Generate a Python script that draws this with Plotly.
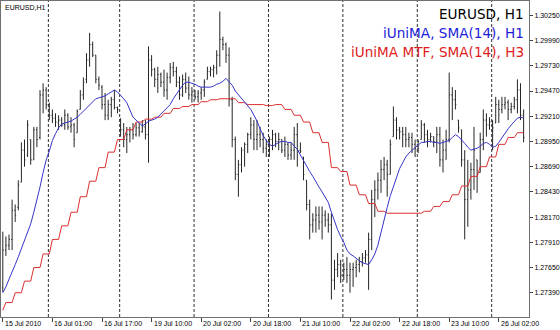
import plotly.graph_objects as go

# ---------------- data (EURUSD H1, 15-26 Jul 2010) ----------------
bar_open = [
    1.2744, 1.2783, 1.2788, 1.2794, 1.2824, 1.2827, 1.2853, 1.2886, 1.2881, 1.2897,
    1.2876, 1.2907, 1.2899, 1.2943, 1.2948, 1.2933, 1.2922, 1.2919, 1.2915, 1.2917,
    1.2912, 1.2922, 1.2910, 1.2912, 1.2904, 1.2928, 1.2943, 1.2959, 1.2979, 1.2995,
    1.2984, 1.2959, 1.2951, 1.2933, 1.2922, 1.2933, 1.2938, 1.2930, 1.2917, 1.2907,
    1.2897, 1.2902, 1.2907, 1.2902, 1.2909, 1.2905, 1.2910, 1.2902, 1.2979, 1.2969,
    1.2959, 1.2964, 1.2956, 1.2948, 1.2961, 1.2971, 1.2967, 1.2956, 1.2943, 1.2959,
    1.2950, 1.2943, 1.2946, 1.2941, 1.2945, 1.2948, 1.2959, 1.2967, 1.2969, 1.2971,
    1.2984, 1.3000, 1.2995, 1.2984, 1.2938, 1.2897, 1.2861, 1.2871, 1.2886, 1.2892,
    1.2902, 1.2912, 1.2897, 1.2902, 1.2897, 1.2888, 1.2892, 1.2897, 1.2902, 1.2895,
    1.2897, 1.2886, 1.2892, 1.2881, 1.2886, 1.2902, 1.2886, 1.2879, 1.2855, 1.2830,
    1.2809, 1.2814, 1.2819, 1.2812, 1.2819, 1.2814, 1.2809, 1.2752, 1.2763, 1.2768,
    1.2757, 1.2763, 1.2757, 1.2763, 1.2765, 1.2768, 1.2771, 1.2775, 1.2778, 1.2794,
    1.2835, 1.2845, 1.2855, 1.2866, 1.2871, 1.2861, 1.2900, 1.2917, 1.2907, 1.2905,
    1.2902, 1.2897, 1.2899, 1.2892, 1.2888, 1.2897, 1.2912, 1.2902, 1.2897, 1.2900,
    1.2895, 1.2902, 1.2876, 1.2886, 1.2897, 1.2943, 1.2938, 1.2917, 1.2907, 1.2876,
    1.2835, 1.2845, 1.2866, 1.2876, 1.2863, 1.2897, 1.2917, 1.2912, 1.2915, 1.2914,
    1.2933, 1.2928, 1.2933, 1.2935, 1.2928, 1.2931, 1.2938, 1.2948, 1.2922,
]
bar_high = [
    1.2802, 1.2797, 1.2799, 1.2835, 1.2830, 1.2855, 1.2894, 1.2897, 1.2917, 1.2897,
    1.2910, 1.2910, 1.2948, 1.2955, 1.2951, 1.2935, 1.2928, 1.2924, 1.2922, 1.2920,
    1.2928, 1.2924, 1.2920, 1.2914, 1.2928, 1.2948, 1.2961, 1.2986, 1.3007, 1.2998,
    1.2984, 1.2962, 1.2953, 1.2945, 1.2938, 1.2941, 1.2948, 1.2931, 1.2919, 1.2914,
    1.2910, 1.2910, 1.2914, 1.2914, 1.2914, 1.2917, 1.2917, 1.2993, 1.2984, 1.2971,
    1.2972, 1.2966, 1.2969, 1.2966, 1.2976, 1.2977, 1.2972, 1.2962, 1.2964, 1.2966,
    1.2962, 1.2951, 1.2948, 1.2948, 1.2951, 1.2959, 1.2972, 1.2972, 1.2974, 1.2989,
    1.3029, 1.3003, 1.2997, 1.2992, 1.2941, 1.2900, 1.2876, 1.2889, 1.2894, 1.2904,
    1.2920, 1.2917, 1.2917, 1.2910, 1.2904, 1.2897, 1.2900, 1.2907, 1.2904, 1.2904,
    1.2897, 1.2900, 1.2894, 1.2894, 1.2910, 1.2914, 1.2894, 1.2879, 1.2855, 1.2835,
    1.2821, 1.2828, 1.2828, 1.2828, 1.2824, 1.2821, 1.2821, 1.2773, 1.2780, 1.2773,
    1.2770, 1.2776, 1.2770, 1.2770, 1.2773, 1.2776, 1.2780, 1.2783, 1.2801, 1.2845,
    1.2855, 1.2863, 1.2876, 1.2879, 1.2876, 1.2897, 1.2931, 1.2920, 1.2910, 1.2910,
    1.2910, 1.2904, 1.2904, 1.2897, 1.2897, 1.2917, 1.2914, 1.2907, 1.2904, 1.2900,
    1.2910, 1.2910, 1.2897, 1.2907, 1.2966, 1.2951, 1.2948, 1.2917, 1.2907, 1.2886,
    1.2876, 1.2873, 1.2910, 1.2876, 1.2904, 1.2928, 1.2924, 1.2920, 1.2917, 1.2941,
    1.2938, 1.2941, 1.2941, 1.2938, 1.2935, 1.2941, 1.2959, 1.2955, 1.2928,
]
bar_low = [
    1.2740, 1.2777, 1.2783, 1.2783, 1.2812, 1.2824, 1.2853, 1.2869, 1.2879, 1.2871,
    1.2876, 1.2889, 1.2897, 1.2924, 1.2928, 1.2917, 1.2914, 1.2910, 1.2907, 1.2910,
    1.2907, 1.2907, 1.2904, 1.2889, 1.2904, 1.2928, 1.2938, 1.2955, 1.2972, 1.2982,
    1.2955, 1.2948, 1.2928, 1.2917, 1.2917, 1.2920, 1.2928, 1.2924, 1.2900, 1.2889,
    1.2883, 1.2894, 1.2897, 1.2900, 1.2900, 1.2904, 1.2897, 1.2873, 1.2962, 1.2951,
    1.2945, 1.2951, 1.2941, 1.2938, 1.2955, 1.2962, 1.2951, 1.2938, 1.2941, 1.2945,
    1.2938, 1.2935, 1.2938, 1.2935, 1.2938, 1.2941, 1.2959, 1.2962, 1.2961, 1.2964,
    1.2972, 1.2989, 1.2976, 1.2931, 1.2889, 1.2855, 1.2838, 1.2863, 1.2869, 1.2883,
    1.2897, 1.2886, 1.2886, 1.2889, 1.2883, 1.2879, 1.2879, 1.2886, 1.2889, 1.2886,
    1.2883, 1.2879, 1.2876, 1.2876, 1.2876, 1.2869, 1.2883, 1.2855, 1.2824, 1.2794,
    1.2801, 1.2801, 1.2804, 1.2794, 1.2807, 1.2801, 1.2732, 1.2742, 1.2755, 1.2749,
    1.2752, 1.2749, 1.2739, 1.2745, 1.2755, 1.2760, 1.2766, 1.2770, 1.2742, 1.2783,
    1.2817, 1.2835, 1.2842, 1.2855, 1.2838, 1.2861, 1.2900, 1.2897, 1.2897, 1.2889,
    1.2889, 1.2889, 1.2883, 1.2879, 1.2883, 1.2897, 1.2894, 1.2889, 1.2894, 1.2889,
    1.2883, 1.2869, 1.2863, 1.2876, 1.2894, 1.2917, 1.2928, 1.2904, 1.2869, 1.2794,
    1.2807, 1.2835, 1.2845, 1.2842, 1.2863, 1.2886, 1.2900, 1.2907, 1.2886, 1.2914,
    1.2914, 1.2924, 1.2928, 1.2917, 1.2924, 1.2928, 1.2924, 1.2917, 1.2894,
]
bar_close = [
    1.2783, 1.2788, 1.2794, 1.2824, 1.2819, 1.2850, 1.2886, 1.2876, 1.2912, 1.2876,
    1.2907, 1.2897, 1.2943, 1.2948, 1.2933, 1.2922, 1.2919, 1.2915, 1.2917, 1.2912,
    1.2922, 1.2910, 1.2912, 1.2897, 1.2926, 1.2943, 1.2956, 1.2979, 1.2995, 1.2984,
    1.2959, 1.2953, 1.2933, 1.2922, 1.2933, 1.2938, 1.2930, 1.2928, 1.2907, 1.2897,
    1.2902, 1.2907, 1.2902, 1.2909, 1.2905, 1.2910, 1.2902, 1.2979, 1.2969, 1.2959,
    1.2964, 1.2956, 1.2948, 1.2961, 1.2971, 1.2967, 1.2956, 1.2943, 1.2959, 1.2950,
    1.2943, 1.2946, 1.2941, 1.2945, 1.2948, 1.2956, 1.2967, 1.2969, 1.2971, 1.2984,
    1.3000, 1.2995, 1.2984, 1.2938, 1.2897, 1.2861, 1.2871, 1.2886, 1.2892, 1.2902,
    1.2912, 1.2897, 1.2902, 1.2897, 1.2888, 1.2892, 1.2897, 1.2902, 1.2895, 1.2897,
    1.2886, 1.2892, 1.2881, 1.2886, 1.2902, 1.2886, 1.2885, 1.2861, 1.2830, 1.2809,
    1.2814, 1.2819, 1.2812, 1.2819, 1.2814, 1.2809, 1.2752, 1.2763, 1.2768, 1.2757,
    1.2763, 1.2757, 1.2763, 1.2765, 1.2768, 1.2771, 1.2775, 1.2778, 1.2794, 1.2835,
    1.2845, 1.2855, 1.2866, 1.2871, 1.2861, 1.2892, 1.2917, 1.2907, 1.2905, 1.2902,
    1.2897, 1.2899, 1.2892, 1.2888, 1.2895, 1.2912, 1.2902, 1.2897, 1.2900, 1.2895,
    1.2902, 1.2876, 1.2886, 1.2897, 1.2943, 1.2938, 1.2933, 1.2909, 1.2876, 1.2835,
    1.2845, 1.2866, 1.2886, 1.2861, 1.2897, 1.2917, 1.2912, 1.2915, 1.2909, 1.2933,
    1.2928, 1.2933, 1.2935, 1.2928, 1.2931, 1.2938, 1.2948, 1.2922, 1.2899,
]
# iUniMA, SMA(14), H1 (blue)
ma_h1 = [
    1.2739, 1.2745, 1.2753, 1.2760, 1.2768, 1.2776, 1.2784, 1.2793, 1.2801, 1.2810,
    1.2822, 1.2834, 1.2848, 1.2863, 1.2876, 1.2885, 1.2896, 1.2903, 1.2909, 1.2913,
    1.2914, 1.2915, 1.2916, 1.2918, 1.2920, 1.2923, 1.2926, 1.2929, 1.2932, 1.2936,
    1.2939, 1.2940, 1.2941, 1.2942, 1.2944, 1.2946, 1.2948, 1.2946, 1.2943, 1.2939,
    1.2935, 1.2928, 1.2920, 1.2917, 1.2914, 1.2911, 1.2913, 1.2916, 1.2917, 1.2918,
    1.2920, 1.2923, 1.2927, 1.2930, 1.2933, 1.2939, 1.2944, 1.2949, 1.2953, 1.2956,
    1.2956, 1.2955, 1.2954, 1.2952, 1.2951, 1.2951, 1.2951, 1.2951, 1.2952, 1.2954,
    1.2955, 1.2957, 1.2960, 1.2957, 1.2953, 1.2947, 1.2943, 1.2940, 1.2936, 1.2932,
    1.2928, 1.2922, 1.2916, 1.2908, 1.2901, 1.2896, 1.2892, 1.2890, 1.2892, 1.2894,
    1.2895, 1.2895, 1.2894, 1.2894, 1.2890, 1.2887, 1.2881, 1.2875, 1.2869, 1.2864,
    1.2859, 1.2853, 1.2848, 1.2843, 1.2837, 1.2832, 1.2822, 1.2812, 1.2804, 1.2797,
    1.2791, 1.2783, 1.2779, 1.2777, 1.2774, 1.2772, 1.2770, 1.2769, 1.2768, 1.2773,
    1.2779, 1.2788, 1.2802, 1.2814, 1.2827, 1.2839, 1.2848, 1.2857, 1.2867, 1.2873,
    1.2879, 1.2883, 1.2886, 1.2889, 1.2892, 1.2894, 1.2894, 1.2895, 1.2895, 1.2894,
    1.2894, 1.2893, 1.2894, 1.2895, 1.2896, 1.2899, 1.2902, 1.2900, 1.2897, 1.2893,
    1.2889, 1.2886, 1.2887, 1.2888, 1.2890, 1.2893, 1.2894, 1.2892, 1.2889, 1.2890,
    1.2894, 1.2899, 1.2904, 1.2908, 1.2912, 1.2916, 1.2919, 1.2920, 1.2919,
]
# iUniMA MTF, SMA(14), H3 shown on H1 bars (red)
ma_h3 = [
    1.2721, 1.2729, 1.2729, 1.2729, 1.2739, 1.2739, 1.2739, 1.2751, 1.2751, 1.2751,
    1.2765, 1.2765, 1.2765, 1.2779, 1.2779, 1.2779, 1.2794, 1.2794, 1.2794, 1.2808,
    1.2808, 1.2808, 1.2822, 1.2822, 1.2822, 1.2838, 1.2838, 1.2838, 1.2854, 1.2854,
    1.2854, 1.2868, 1.2868, 1.2868, 1.2884, 1.2884, 1.2884, 1.2897, 1.2897, 1.2897,
    1.2907, 1.2907, 1.2907, 1.2915, 1.2915, 1.2915, 1.2918, 1.2918, 1.2918, 1.2920,
    1.2920, 1.2920, 1.2924, 1.2924, 1.2924, 1.2929, 1.2929, 1.2929, 1.2931, 1.2931,
    1.2931, 1.2933, 1.2933, 1.2933, 1.2936, 1.2936, 1.2936, 1.2938, 1.2938, 1.2938,
    1.2939, 1.2939, 1.2939, 1.2939, 1.2939, 1.2939, 1.2935, 1.2935, 1.2935, 1.2933,
    1.2933, 1.2933, 1.2933, 1.2933, 1.2933, 1.2932, 1.2932, 1.2932, 1.2933, 1.2933,
    1.2933, 1.2928, 1.2928, 1.2928, 1.2922, 1.2922, 1.2922, 1.2915, 1.2915, 1.2915,
    1.2904, 1.2904, 1.2904, 1.2894, 1.2894, 1.2894, 1.2868, 1.2868, 1.2868, 1.2864,
    1.2864, 1.2864, 1.2850, 1.2850, 1.2850, 1.2840, 1.2840, 1.2840, 1.2831, 1.2831,
    1.2831, 1.2823, 1.2823, 1.2823, 1.2821, 1.2821, 1.2821, 1.2821, 1.2821, 1.2821,
    1.2821, 1.2821, 1.2821, 1.2821, 1.2821, 1.2821, 1.2823, 1.2823, 1.2823, 1.2828,
    1.2828, 1.2828, 1.2833, 1.2833, 1.2833, 1.2840, 1.2840, 1.2840, 1.2849, 1.2849,
    1.2849, 1.2859, 1.2859, 1.2859, 1.2869, 1.2869, 1.2869, 1.2879, 1.2879, 1.2879,
    1.2892, 1.2892, 1.2892, 1.2899, 1.2899, 1.2899, 1.2904, 1.2904, 1.2904,
]
time_label_bars = [0, 16, 32, 48, 64, 80, 96, 112, 128, 144, 160]
time_labels = ["15 Jul 2010", "16 Jul 01:00", "16 Jul 17:00", "19 Jul 10:00",
               "20 Jul 02:00", "20 Jul 18:00", "21 Jul 10:00", "22 Jul 02:00",
               "22 Jul 18:00", "23 Jul 10:00", "26 Jul 02:00"]
day_start_bars = [15, 38, 62, 86, 110, 134, 158]
price_ticks = [1.30250, 1.29990, 1.29730, 1.29470, 1.29210, 1.28950,
               1.28690, 1.28430, 1.28170, 1.27910, 1.27650, 1.27390]
symbol_label = "EURUSD,H1"
legend_lines = [("EURUSD, H1", "#000000"),
                ("iUniMA, SMA(14), H1", "#1c1cd8"),
                ("iUniMA MTF, SMA(14), H3", "#e01c1c")]

# ---------------- figure ----------------
idx = list(range(len(bar_close)))
fig = go.Figure()
fig.add_trace(go.Ohlc(
    x=idx, open=bar_open, high=bar_high, low=bar_low, close=bar_close,
    increasing=dict(line=dict(color="#262626", width=1)),
    decreasing=dict(line=dict(color="#262626", width=1)),
    tickwidth=0.3, hoverinfo="skip", showlegend=False))
fig.add_trace(go.Scatter(x=idx, y=ma_h3, mode="lines",
                         line=dict(color="#dc3030", width=1),
                         hoverinfo="skip", showlegend=False))
fig.add_trace(go.Scatter(x=idx, y=ma_h1, mode="lines",
                         line=dict(color="#3535c8", width=1),
                         hoverinfo="skip", showlegend=False))

for b in day_start_bars:
    fig.add_shape(type="line", xref="x", yref="paper", x0=b - 0.3, x1=b - 0.3,
                  y0=0, y1=1, line=dict(color="#303030", width=1, dash="3px,2px"),
                  layer="below")

axis_font = dict(family="Liberation Sans, Arial, sans-serif", size=7, color="#000000")

for b, t in zip(time_label_bars, time_labels):
    fig.add_annotation(x=b, y=0, xref="x", yref="paper", text=t, showarrow=False,
                       xanchor="left", yanchor="top", xshift=0, yshift=-1,
                       font=axis_font)

fig.add_annotation(x=0, y=1, xref="paper", yref="paper", text=symbol_label,
                   showarrow=False, xanchor="left", yanchor="middle",
                   xshift=2, yshift=-6, font=axis_font)

for k, (t, c) in enumerate(legend_lines):
    fig.add_annotation(x=1, y=1, xref="paper", yref="paper", text=t, showarrow=False,
                       xanchor="right", yanchor="middle", xshift=-3,
                       yshift=-13 - 19 * k,
                       font=dict(family="DejaVu Sans, Verdana, sans-serif",
                                 size=13.6, color=c))

fig.update_layout(
    width=560, height=330,
    margin=dict(l=1, r=31, t=1, b=13),
    paper_bgcolor="white", plot_bgcolor="white",
    hovermode=False, showlegend=False,
    xaxis=dict(range=[-0.58, 169.74], tickmode="array", tickvals=time_label_bars,
               showticklabels=False, ticks="outside", ticklen=4, tickcolor="#404040",
               showgrid=False, zeroline=False, showline=True, linecolor="#707070",
               linewidth=1, mirror=True, rangeslider=dict(visible=False),
               automargin=False),
    yaxis=dict(range=[1.27140, 1.30398], side="right", tickmode="array",
               tickvals=price_ticks, ticktext=[f"{v:.5f}" for v in price_ticks],
               ticks="outside", ticklen=3, tickcolor="#404040", tickfont=axis_font,
               showgrid=False, zeroline=False, showline=True, linecolor="#707070",
               linewidth=1, mirror=True, automargin=False),
)

fig.write_html("out.html")
